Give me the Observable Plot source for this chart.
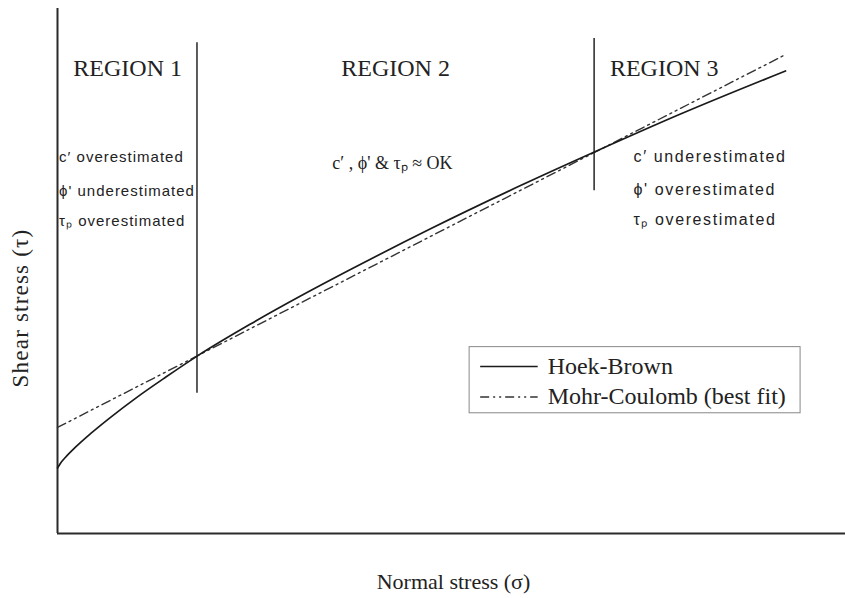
<!DOCTYPE html>
<html><head><meta charset="utf-8">
<script src="https://cdn.jsdelivr.net/npm/d3@7"></script>
<script src="https://cdn.jsdelivr.net/npm/@observablehq/plot@0.6"></script>
<style>
html,body{margin:0;padding:0;background:#fff;}
#chart{width:845px;height:598px;}
</style></head><body><div id="chart"></div>
<script>
// Hoek-Brown envelope (normal stress sigma, shear stress tau), arbitrary units
const hbSigma = [0, 0.38, 1.02, 2.28, 4.19, 6.73, 9.90, 13.71, 17.77, 24.49, 30.84, 37.18, 47.34, 58.76, 68.27, 79.06, 92.39];
const hbTau   = [12.48, 13.39, 14.53, 16.44, 19.01, 22.13, 25.75, 29.75, 33.83, 39.89, 45.22, 50.27, 58.04, 66.27, 72.76, 79.89, 88.10];
// Mohr-Coulomb best-fit line
const mcSigma = [0, 92.1];
const mcTau   = [20.2, 91.0];
// Region boundaries
const boundarySigma  = [17.7, 68.1];
const boundaryTop    = [93.5, 94.3];
const boundaryBottom = [26.7, 65.3];
// Region labels
const regionLabels = ["REGION 1", "REGION 2", "REGION 3"];
const regionSigma  = [8.9, 42.9, 77.0];
const regionTau    = [87.1, 87.1, 87.1];
// Notes
const region1Notes = ["c\u2032 overestimated", "\u03d5' underestimated", "\u03c4\u209a overestimated"];
const region1Tau   = [70.7, 64.3, 58.5];
const region1Sigma = 0.2;
const region2Note  = "c\u2032 , \u03d5' & \u03c4\u209a \u2248 OK";
const region2Sigma = 42.5;
const region2Tau   = 69.5;
const region3Notes = ["c\u2032 underestimated", "\u03d5' overestimated", "\u03c4\u209a overestimated"];
const region3Tau   = [70.7, 64.4, 58.8];
const region3Sigma = 73.1;
// Legend
const legendLabels = ["Hoek-Brown", "Mohr-Coulomb (best fit)"];
const legendLineTau = [31.8, 26.0];
const legendTextTau = [30.3, 24.6];
const legendBox = {x1: 52.3, x2: 94.3, y1: 22.9, y2: 35.5};
const legendLineX = [53.7, 61.0];
const legendTextX = 62.2;
const xTitle = "Normal stress (\u03c3)";
const yTitle = "Shear stress (\u03c4)";

const hb = hbSigma.map((s, i) => ({sigma: s, tau: hbTau[i]}));
const mc = mcSigma.map((s, i) => ({sigma: s, tau: mcTau[i]}));
const boundaries = boundarySigma.map((s, i) => ({sigma: s, top: boundaryTop[i], bottom: boundaryBottom[i]}));
const regions = regionLabels.map((l, i) => ({label: l, sigma: regionSigma[i], tau: regionTau[i]}));
const notes1 = region1Notes.map((t, i) => ({text: t, tau: region1Tau[i]}));
const notes3 = region3Notes.map((t, i) => ({text: t, tau: region3Tau[i]}));
const legend = legendLabels.map((l, i) => ({label: l, lineTau: legendLineTau[i], textTau: legendTextTau[i]}));

const serif = "'Liberation Serif', 'Times New Roman', serif";
const sans = "'Liberation Sans', Arial, sans-serif";
const dash = "9,4,2,4,2,4";

const plot = Plot.plot({
  width: 845, height: 598,
  marginLeft: 57, marginRight: 0, marginTop: 8, marginBottom: 65,
  x: {domain: [0, 100], axis: null},
  y: {domain: [0, 100], axis: null},
  style: {background: "#fff", color: "#222"},
  marks: [
    Plot.ruleY([0], {stroke: "#2a2a2a", strokeWidth: 2}),
    Plot.ruleX([0], {y1: 0, y2: 100, stroke: "#2a2a2a", strokeWidth: 2}),
    Plot.ruleX(boundaries, {x: "sigma", y1: "top", y2: "bottom", stroke: "#333", strokeWidth: 1.6}),
    Plot.line(mc, {x: "sigma", y: "tau", stroke: "#333", strokeWidth: 1.4, strokeDasharray: dash}),
    Plot.line(hb, {x: "sigma", y: "tau", curve: "monotone-x", stroke: "#1a1a1a", strokeWidth: 1.7}),
    Plot.text(regions, {x: "sigma", y: "tau", text: "label", fontFamily: serif, fontSize: 24, lineAnchor: "bottom", fill: "#222"}),
    Plot.text(notes1, {x: () => region1Sigma, y: "tau", text: "text", fontFamily: sans, fontSize: 15, textAnchor: "start", lineAnchor: "bottom", fill: "#222", ariaDescription: "notes1"}),
    Plot.text(notes3, {x: () => region3Sigma, y: "tau", text: "text", fontFamily: sans, fontSize: 16, textAnchor: "start", lineAnchor: "bottom", fill: "#222", ariaDescription: "notes3"}),
    Plot.text([region2Note], {x: () => region2Sigma, y: () => region2Tau, text: d => d, fontFamily: serif, fontSize: 18, lineAnchor: "bottom", fill: "#222"}),
    Plot.rect([legendBox], {x1: "x1", x2: "x2", y1: "y1", y2: "y2", fill: "white", stroke: "#888", strokeWidth: 1}),
    Plot.ruleY([legend[0]], {y: "lineTau", x1: () => legendLineX[0], x2: () => legendLineX[1], stroke: "#1a1a1a", strokeWidth: 1.5}),
    Plot.ruleY([legend[1]], {y: "lineTau", x1: () => legendLineX[0], x2: () => legendLineX[1], stroke: "#333", strokeWidth: 1.3, strokeDasharray: dash}),
    Plot.text(legend, {x: () => legendTextX, y: "textTau", text: "label", fontFamily: serif, fontSize: 24, textAnchor: "start", lineAnchor: "bottom", fill: "#222"}),
    Plot.text([xTitle], {frameAnchor: "bottom", text: d => d, dx: 2, dy: 55, fontFamily: serif, fontSize: 22, textAnchor: "middle", lineAnchor: "bottom", fill: "#222"}),
    Plot.text([yTitle], {frameAnchor: "left", text: d => d, rotate: -90, dx: -30, dy: 37, fontFamily: serif, fontSize: 23, textAnchor: "middle", lineAnchor: "bottom", fill: "#222", ariaDescription: "ytitle"})
  ]
});
d3.select(plot).selectAll('g[aria-description="notes1"] text').style("letter-spacing", "1px");
d3.select(plot).selectAll('g[aria-description="notes3"] text').style("letter-spacing", "1.6px");
d3.select(plot).selectAll('g[aria-description="ytitle"] text').style("letter-spacing", "1.2px");
document.getElementById("chart").appendChild(plot);
</script>
</body></html>
